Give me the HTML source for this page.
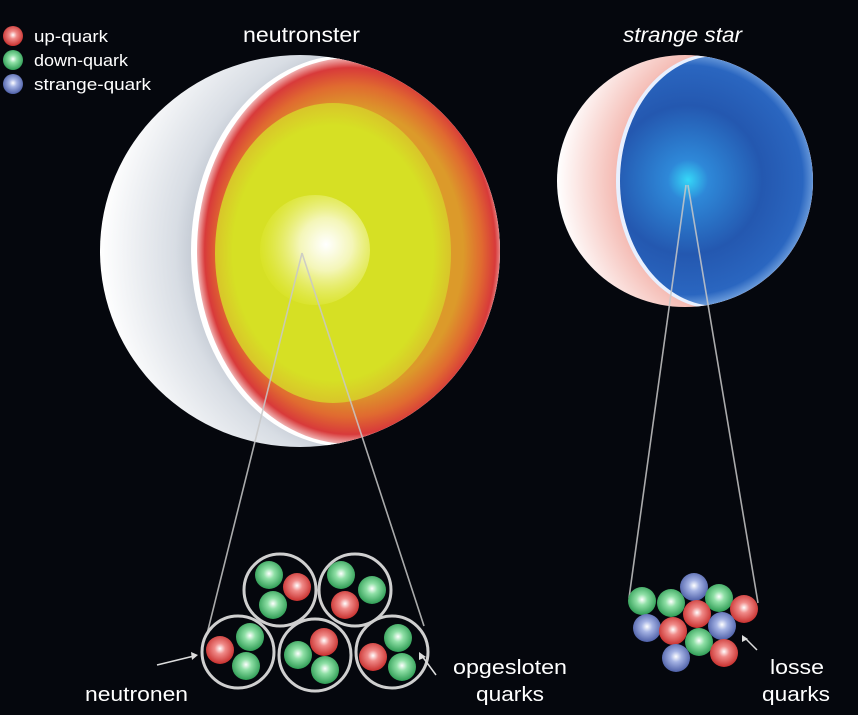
<!DOCTYPE html>
<html><head><meta charset="utf-8"><style>
html,body{margin:0;padding:0;background:#05070d;}
svg{display:block}
text{font-family:"Liberation Sans",sans-serif;fill:#fff}
</style></head><body>
<svg width="858" height="715" viewBox="0 0 858 715" xmlns="http://www.w3.org/2000/svg">
<defs>
<radialGradient id="qr" cx="0.5" cy="0.45" r="0.55"><stop offset="0" stop-color="#fff"/><stop offset="0.35" stop-color="#f08a88"/><stop offset="1" stop-color="#c8302e"/></radialGradient>
<radialGradient id="qg" cx="0.5" cy="0.45" r="0.55"><stop offset="0" stop-color="#fff"/><stop offset="0.35" stop-color="#8fe0a6"/><stop offset="1" stop-color="#2f9d55"/></radialGradient>
<radialGradient id="qb" cx="0.5" cy="0.45" r="0.55"><stop offset="0" stop-color="#fff"/><stop offset="0.35" stop-color="#a5b3e4"/><stop offset="1" stop-color="#4e60a8"/></radialGradient>
<radialGradient id="shellN" cx="0.75" cy="0.5" r="0.75"><stop offset="0.5" stop-color="#8a95a6"/><stop offset="0.75" stop-color="#d8dde4"/><stop offset="1" stop-color="#ffffff"/></radialGradient>
<radialGradient id="faceN" cx="0.5" cy="0.5" r="0.5"><stop offset="0.74" stop-color="#dc9a2a"/><stop offset="0.86" stop-color="#e06a30"/><stop offset="0.95" stop-color="#d83a3a"/><stop offset="1" stop-color="#f0b0b0"/></radialGradient>
<radialGradient id="yel" cx="0.5" cy="0.5" r="0.5"><stop offset="0.85" stop-color="#d6e024"/><stop offset="1" stop-color="#d9c52a"/></radialGradient>
<radialGradient id="core" cx="0.6" cy="0.45" r="0.6"><stop offset="0" stop-color="#ffffff"/><stop offset="0.4" stop-color="#f4f6b8"/><stop offset="1" stop-color="#dde62e" stop-opacity="0.5"/></radialGradient>
<radialGradient id="shellS" cx="0.8" cy="0.5" r="0.8"><stop offset="0.45" stop-color="#f06a60"/><stop offset="0.7" stop-color="#f4b8b0"/><stop offset="1" stop-color="#fff"/></radialGradient>
<radialGradient id="faceS" cx="688" cy="180" r="135" gradientUnits="userSpaceOnUse"><stop offset="0" stop-color="#35d8f8"/><stop offset="0.15" stop-color="#2e88d8"/><stop offset="0.55" stop-color="#2458b0"/><stop offset="0.85" stop-color="#2a66c0"/><stop offset="1" stop-color="#9cc4f0"/></radialGradient>
<clipPath id="cN"><ellipse cx="300" cy="251" rx="200" ry="196"/></clipPath>
<clipPath id="cS"><ellipse cx="685" cy="181" rx="128" ry="126"/></clipPath>
</defs>

<circle cx="13" cy="36" r="10" fill="url(#qr)"/>
<circle cx="13" cy="60" r="10" fill="url(#qg)"/>
<circle cx="13" cy="84" r="10" fill="url(#qb)"/>
<text x="34" y="42" font-size="17" textLength="74" lengthAdjust="spacingAndGlyphs">up-quark</text>
<text x="34" y="66" font-size="17" textLength="94" lengthAdjust="spacingAndGlyphs">down-quark</text>
<text x="34" y="90" font-size="17" textLength="117" lengthAdjust="spacingAndGlyphs">strange-quark</text>

<text x="243" y="42" font-size="21" textLength="117" lengthAdjust="spacingAndGlyphs">neutronster</text>
<text x="623" y="42" font-size="21" font-style="italic" textLength="119" lengthAdjust="spacingAndGlyphs">strange star</text>

<ellipse cx="300" cy="251" rx="200" ry="196" fill="url(#shellN)"/>
<g clip-path="url(#cN)">
<ellipse cx="348" cy="251" rx="157" ry="196" fill="#fff"/>
<ellipse cx="350" cy="251" rx="153" ry="193" fill="url(#faceN)"/>
</g>
<ellipse cx="333" cy="253" rx="118" ry="150" fill="url(#yel)"/>
<circle cx="315" cy="250" r="55" fill="url(#core)"/>

<ellipse cx="685" cy="181" rx="128" ry="126" fill="url(#shellS)"/>
<g clip-path="url(#cS)">
<ellipse cx="716" cy="181" rx="100" ry="128" fill="#e8f0ff"/>
<ellipse cx="717" cy="181" rx="97" ry="125" fill="url(#faceS)"/>
</g>

<g stroke="#c8c8c8" stroke-width="1.6" fill="none" opacity="0.85">
<line x1="302" y1="253" x2="206" y2="638"/>
<line x1="302" y1="253" x2="424" y2="626"/>
<line x1="686" y1="185" x2="629" y2="598"/>
<line x1="688" y1="185" x2="758" y2="603"/>
</g>

<g stroke="#cfcfcf" stroke-width="3" fill="#05070d">
<circle cx="280" cy="590" r="36"/>
<circle cx="355" cy="590" r="36"/>
<circle cx="238" cy="652" r="36"/>
<circle cx="315" cy="655" r="36"/>
<circle cx="392" cy="652" r="36"/>
</g>
<g>
<circle cx="269" cy="575" r="14" fill="url(#qg)"/><circle cx="297" cy="587" r="14" fill="url(#qr)"/><circle cx="273" cy="605" r="14" fill="url(#qg)"/>
<circle cx="341" cy="575" r="14" fill="url(#qg)"/><circle cx="372" cy="590" r="14" fill="url(#qg)"/><circle cx="345" cy="605" r="14" fill="url(#qr)"/>
<circle cx="220" cy="650" r="14" fill="url(#qr)"/><circle cx="250" cy="637" r="14" fill="url(#qg)"/><circle cx="246" cy="666" r="14" fill="url(#qg)"/>
<circle cx="298" cy="655" r="14" fill="url(#qg)"/><circle cx="324" cy="642" r="14" fill="url(#qr)"/><circle cx="325" cy="670" r="14" fill="url(#qg)"/>
<circle cx="373" cy="657" r="14" fill="url(#qr)"/><circle cx="398" cy="638" r="14" fill="url(#qg)"/><circle cx="402" cy="667" r="14" fill="url(#qg)"/>
</g>

<g>
<circle cx="694" cy="587" r="14" fill="url(#qb)"/>
<circle cx="642" cy="601" r="14" fill="url(#qg)"/>
<circle cx="671" cy="603" r="14" fill="url(#qg)"/>
<circle cx="719" cy="598" r="14" fill="url(#qg)"/>
<circle cx="744" cy="609" r="14" fill="url(#qr)"/>
<circle cx="697" cy="614" r="14" fill="url(#qr)"/>
<circle cx="647" cy="628" r="14" fill="url(#qb)"/>
<circle cx="673" cy="631" r="14" fill="url(#qr)"/>
<circle cx="722" cy="626" r="14" fill="url(#qb)"/>
<circle cx="699" cy="642" r="14" fill="url(#qg)"/>
<circle cx="724" cy="653" r="14" fill="url(#qr)"/>
<circle cx="676" cy="658" r="14" fill="url(#qb)"/>
</g>

<g stroke="#ddd" stroke-width="1.5" fill="#ddd">
<line x1="157" y1="665" x2="194" y2="656"/><polygon points="198,655 191,652 192,660" stroke="none"/>
<line x1="436" y1="675" x2="422" y2="656"/><polygon points="419,652 419,660 426,657" stroke="none"/>
<line x1="757" y1="650" x2="745" y2="638"/><polygon points="742,635 742,642 748,639" stroke="none"/>
</g>

<text x="85" y="701" font-size="20" textLength="103" lengthAdjust="spacingAndGlyphs">neutronen</text>
<text x="453" y="674" font-size="20" textLength="114" lengthAdjust="spacingAndGlyphs">opgesloten</text>
<text x="476" y="701" font-size="20" textLength="68" lengthAdjust="spacingAndGlyphs">quarks</text>
<text x="770" y="674" font-size="20" textLength="54" lengthAdjust="spacingAndGlyphs">losse</text>
<text x="762" y="701" font-size="20" textLength="68" lengthAdjust="spacingAndGlyphs">quarks</text>
</svg>
</body></html>
